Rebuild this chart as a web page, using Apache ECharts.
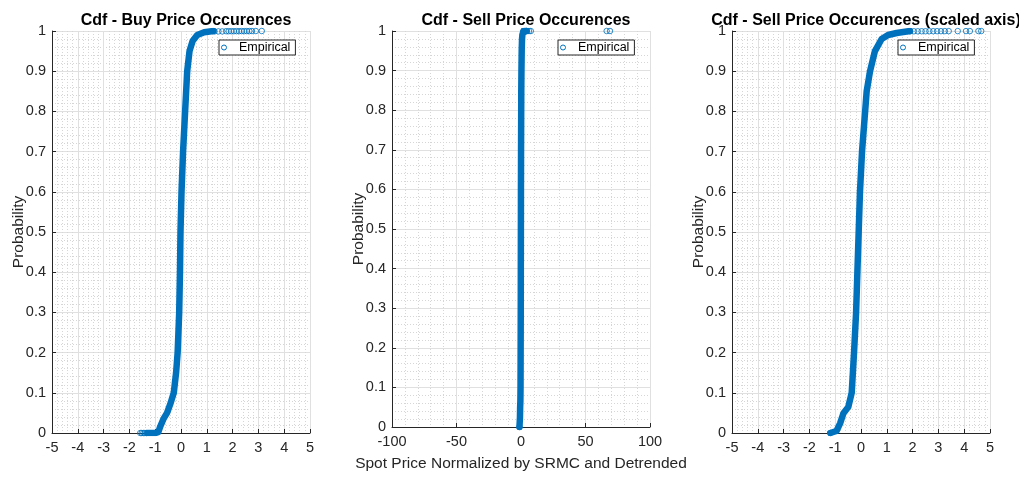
<!DOCTYPE html>
<html>
<head>
<meta charset="utf-8">
<script src="https://cdn.jsdelivr.net/npm/echarts@6/dist/echarts.min.js"></script>
<style>
html,body{margin:0;padding:0;background:#fff;}
#c{width:1019px;height:477px;}
</style>
</head>
<body>
<div id="c"></div>
<script>
// ---- data ----
const titles = ['Cdf - Buy Price Occurences', 'Cdf - Sell Price Occurences', 'Cdf - Sell Price Occurences (scaled axis)'];
const xAxisTitle = 'Spot Price Normalized by SRMC and Detrended';
const yAxisTitle = 'Probability';
const legendLabel = 'Empirical';

// Buy price empirical CDF (curve through the dense markers)
const buyX = [-1.3, -1.0, -0.88, -0.8, -0.68, -0.54, -0.4, -0.28, -0.19, -0.13, -0.07, -0.04, -0.02, 0.02, 0.08, 0.16, 0.24, 0.33, 0.45, 0.63, 0.9, 1.26];
const buyP = [0, 0, 0.002, 0.017, 0.035, 0.05, 0.075, 0.1, 0.15, 0.2, 0.3, 0.4, 0.5, 0.6, 0.7, 0.8, 0.9, 0.95, 0.975, 0.99, 0.997, 1];
// Buy price isolated markers (tails)
const buyTailX = [-1.58, -1.52, -1.46, -1.4, -1.34, 1.3, 1.45, 1.6, 1.75, 1.85, 1.95, 2.05, 2.15, 2.25, 2.35, 2.45, 2.55, 2.65, 2.75, 2.9, 3.13];
const buyTailP = [0, 0, 0, 0, 0, 0.999, 0.999, 0.999, 0.9995, 0.9995, 0.9995, 0.9995, 0.9996, 0.9996, 0.9997, 0.9997, 0.9998, 0.9998, 0.9999, 0.9999, 1];

// Sell price empirical CDF (same data on both sell panels)
const sellX = [-1.19, -0.95, -0.81, -0.68, -0.49, -0.36, -0.27, -0.19, -0.14, -0.09, -0.04, 0.04, 0.16, 0.22, 0.35, 0.54, 0.8, 1.05, 1.38, 1.9];
const sellP = [0, 0.005, 0.024, 0.049, 0.065, 0.1, 0.2, 0.3, 0.4, 0.5, 0.6, 0.7, 0.8, 0.85, 0.9, 0.95, 0.98, 0.99, 0.995, 1];
// Sell price isolated markers (tails)
const sellTailX = [-1.19, 1.9, 2.05, 2.2, 2.35, 2.5, 2.65, 2.8, 2.95, 3.1, 3.25, 3.4, 3.75, 4.07, 4.22, 4.55, 4.66, 6.2, 7.6, 66.4, 69.0];
const sellTailP = [0, 0.9992, 0.9993, 0.9993, 0.9994, 0.9994, 0.9995, 0.9995, 0.9996, 0.9996, 0.9997, 0.9997, 0.9998, 0.9998, 0.9998, 0.9999, 0.9999, 0.9999, 0.99995, 0.99998, 1];

// tick settings
const yTicks = {min: 0, max: 1, interval: 0.1};
const xNarrow = {min: -5, max: 5, interval: 1};
const xWide = {min: -100, max: 100, interval: 50};

// ---- build chart ----
const BLUE = '#0072BD';
const DARK = '#262626';
const FONT = '"Liberation Sans", Arial, Helvetica, sans-serif';
const zip = (xs, ys) => xs.map((x, i) => [x, ys[i]]);

const panels = [
  {left: 52, x: xNarrow, curve: zip(buyX, buyP), tail: zip(buyTailX, buyTailP), legendLeft: 219},
  {left: 392, x: xWide, curve: zip(sellX, sellP), tail: zip(sellTailX, sellTailP), legendLeft: 558},
  {left: 732, x: xNarrow, curve: zip(sellX, sellP), tail: zip(sellTailX, sellTailP), legendLeft: 898}
];
const W = 258, TOP = 31, H = 402;

const grid = panels.map(p => ({left: p.left, top: TOP, width: W, height: H, containLabel: false}));
const minorGrid = {show: true, lineStyle: {color: '#d6d6d6', type: [1, 2], width: 1}};
const majorGrid = {show: true, lineStyle: {color: '#e0e0e0', width: 1}};

const xAxis = panels.map((p, i) => ({
  type: 'value', gridIndex: i, min: p.x.min, max: p.x.max, interval: p.x.interval,
  name: i === 1 ? xAxisTitle : '', nameLocation: 'middle', nameGap: 29, nameMoveOverlap: false,
  nameTextStyle: {fontFamily: FONT, fontSize: 15.5, color: DARK},
  axisLine: {show: true, onZero: false, lineStyle: {color: DARK, width: 1}},
  axisTick: {show: true, inside: true, length: 4, lineStyle: {color: DARK}},
  axisLabel: {fontFamily: FONT, fontSize: 14.5, color: DARK, margin: 7, showMinLabel: true, showMaxLabel: true},
  splitLine: majorGrid,
  minorTick: {show: false, splitNumber: 5},
  minorSplitLine: minorGrid
}));
const yAxis = panels.map((p, i) => ({
  type: 'value', gridIndex: i, min: yTicks.min, max: yTicks.max, interval: yTicks.interval,
  name: yAxisTitle, nameLocation: 'middle', nameGap: 25, nameMoveOverlap: false,
  nameTextStyle: {fontFamily: FONT, fontSize: 15.5, color: DARK},
  axisLine: {show: true, onZero: false, lineStyle: {color: DARK, width: 1}},
  axisTick: {show: true, inside: true, length: 4, lineStyle: {color: DARK}},
  axisLabel: {fontFamily: FONT, fontSize: 14.5, color: DARK, margin: 6, formatter: v => String(Math.round(v * 10) / 10)},
  splitLine: majorGrid,
  minorTick: {show: false, splitNumber: 5},
  minorSplitLine: minorGrid
}));

const series = [];
panels.forEach((p, i) => {
  series.push({
    name: legendLabel, type: 'line', xAxisIndex: i, yAxisIndex: i,
    data: p.curve, showSymbol: false, symbol: 'none', smooth: false, clip: true,
    lineStyle: {color: BLUE, width: 6.5, cap: 'round', join: 'round'},
    itemStyle: {color: BLUE}, silent: true, z: 3
  });
  series.push({
    name: legendLabel, type: 'scatter', xAxisIndex: i, yAxisIndex: i,
    data: p.tail, symbol: 'circle', symbolSize: 5.5, clip: true,
    itemStyle: {color: 'rgba(255,255,255,0)', borderColor: BLUE, borderWidth: 1}, silent: true, z: 4
  });
});

const title = titles.map((t, i) => ({
  text: t, left: panels[i].left + W / 2, top: 8, textAlign: 'center',
  textStyle: {fontFamily: FONT, fontSize: 16, fontWeight: 'bold', color: '#000'}
}));

const legend = panels.map(p => ({
  data: [{name: legendLabel, icon: 'circle'}],
  left: p.legendLeft, top: 40, orient: 'horizontal',
  backgroundColor: '#fff', borderColor: DARK, borderWidth: 1, borderRadius: 0,
  padding: [1, 5, 1, 2], itemWidth: 20, itemHeight: 5, selectedMode: false,
  itemStyle: {color: '#fff', borderColor: BLUE, borderWidth: 1},
  textStyle: {fontFamily: FONT, fontSize: 12.5, color: '#000'}
}));

const chart = echarts.init(document.getElementById('c'), null, {renderer: 'canvas'});
chart.setOption({
  animation: false, backgroundColor: '#fff',
  title, legend, grid, xAxis, yAxis, series
});
</script>
</body>
</html>
